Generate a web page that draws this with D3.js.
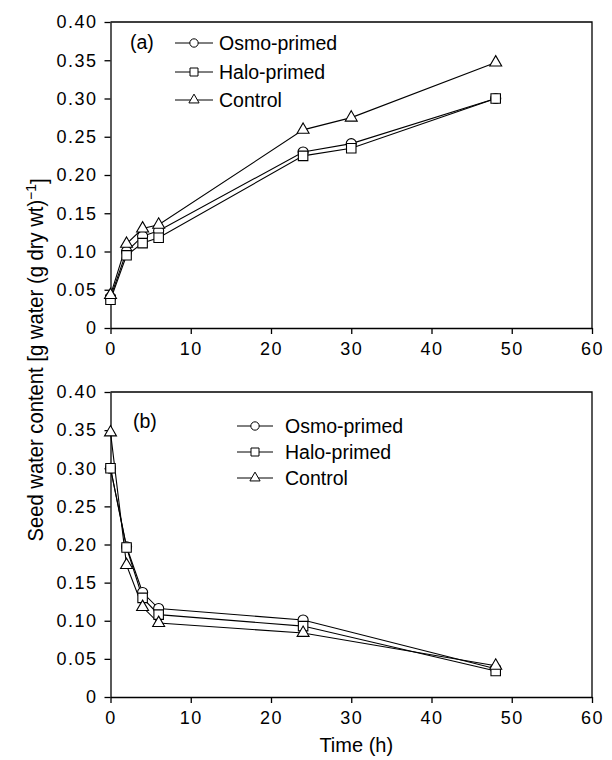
<!DOCTYPE html>
<meta charset="utf-8">
<script src="https://d3js.org/d3.v7.min.js"></script>
<style>
    body { margin: 0; background: #fff; }
    text { font-family: "Liberation Sans", Arial, sans-serif; fill: #000; }
</style>
<div id="vis"></div>
<script>
    // data
    var seriesNames = ["Osmo-primed", "Halo-primed", "Control"];
    var seriesShapes = ["circle", "square", "triangle"];

    var timesA = [0, 2, 4, 6, 24, 30, 48];
    var osmoA = [0.040, 0.100, 0.120, 0.127, 0.230, 0.241, 0.300];
    var haloA = [0.037, 0.095, 0.111, 0.118, 0.225, 0.235, 0.300];
    var ctrlA = [0.043, 0.110, 0.130, 0.135, 0.259, 0.275, 0.347];

    var timesB = [0, 2, 4, 6, 24, 48];
    var osmoB = [0.300, 0.197, 0.137, 0.116, 0.101, 0.037];
    var haloB = [0.300, 0.196, 0.130, 0.108, 0.093, 0.034];
    var ctrlB = [0.347, 0.173, 0.118, 0.097, 0.084, 0.041];

    var xTicks = [0, 10, 20, 30, 40, 50, 60];
    var yTicks = [0, 0.05, 0.10, 0.15, 0.20, 0.25, 0.30, 0.35, 0.40];

    // layout
    var W = 612, H = 760;
    var lft = 110.5, rgt = 592;
    var svg = d3.select("#vis").append("svg")
        .attr("width", W).attr("height", H);

    var x = d3.scaleLinear().domain([0, 60]).range([lft, rgt]);

    var symbolFor = {
        circle: d3.symbol().type(d3.symbolCircle).size(80),
        square: d3.symbol().type(d3.symbolSquare).size(90),
        triangle: d3.symbol().type(d3.symbolTriangle).size(62)
    };

    function panel(top, bot, times, series, tag, leg) {
        var y = d3.scaleLinear().domain([0, 0.40]).range([bot, top]);
        var g = svg.append("g");

        // axes
        var ax = g.append("g")
            .attr("transform", "translate(0," + bot + ")")
            .call(d3.axisBottom(x).tickValues(xTicks).tickSize(6).tickSizeOuter(0).tickPadding(8));
        var ay = g.append("g")
            .attr("transform", "translate(" + lft + ",0)")
            .call(d3.axisLeft(y).tickValues(yTicks).tickSize(6).tickSizeOuter(0).tickPadding(7)
                .tickFormat(function (d) { return d === 0 ? "0" : d.toFixed(2); }));
        [ax, ay].forEach(function (a) {
            a.selectAll("path, line").attr("stroke", "#000").attr("stroke-width", 1.3);
            a.selectAll("text").style("font-size", "18px").style("letter-spacing", "1.5px")
                .attr("fill", "#000");
        });
        // top + right frame
        g.append("path")
            .attr("d", "M" + lft + "," + top + "H" + rgt + "V" + bot)
            .attr("fill", "none").attr("stroke", "#000").attr("stroke-width", 1.3);

        var line = d3.line()
            .x(function (d) { return x(d[0]); })
            .y(function (d) { return y(d[1]); });

        series.forEach(function (vals, i) {
            var pts = times.map(function (t, k) { return [t, vals[k]]; });
            g.append("path").datum(pts)
                .attr("d", line)
                .attr("fill", "none").attr("stroke", "#000").attr("stroke-width", 1.1);
        });
        series.forEach(function (vals, i) {
            var pts = times.map(function (t, k) { return [t, vals[k]]; });
            g.selectAll(".m" + i).data(pts).enter().append("path")
                .attr("class", "m" + i)
                .attr("d", symbolFor[seriesShapes[i]])
                .attr("transform", function (d) { return "translate(" + x(d[0]) + "," + y(d[1]) + ")"; })
                .attr("fill", "#fff").attr("stroke", "#000").attr("stroke-width", 1.1);
        });

        // panel tag
        g.append("text").attr("x", tag.x).attr("y", tag.y)
            .text(tag.label).style("font-size", "19.5px");

        // legend
        seriesNames.forEach(function (nm, i) {
            var ry = leg.rows[i];
            g.append("line")
                .attr("x1", leg.x1).attr("x2", leg.x2).attr("y1", ry).attr("y2", ry)
                .attr("stroke", "#000").attr("stroke-width", 1);
            g.append("path")
                .attr("d", d3.symbol().type([d3.symbolCircle, d3.symbolSquare, d3.symbolTriangle][i])
                    .size([55, 64, 45][i]))
                .attr("transform", "translate(" + (leg.x1 + leg.x2) / 2 + "," + ry + ")")
                .attr("fill", "#fff").attr("stroke", "#000").attr("stroke-width", 1);
            g.append("text")
                .attr("x", leg.tx).attr("y", ry + 7)
                .text(nm).style("font-size", "19.5px");
        });
    }

    panel(22, 328, timesA, [osmoA, haloA, ctrlA],
        { x: 130, y: 49, label: "(a)" },
        { x1: 175, x2: 213, tx: 219, rows: [43, 72, 100] });
    panel(392, 697, timesB, [osmoB, haloB, ctrlB],
        { x: 133, y: 428, label: "(b)" },
        { x1: 237, x2: 273, tx: 285, rows: [426, 452, 478] });

    // axis titles
    svg.append("text")
        .attr("x", (lft + rgt) / 2 + 5).attr("y", 752)
        .attr("text-anchor", "middle")
        .style("font-size", "20px")
        .text("Time (h)");

    // y title: slightly condensed, as in the original
    var yl = svg.append("text")
        .attr("transform", "translate(43,360) rotate(-90) scale(0.92,1)")
        .attr("text-anchor", "middle")
        .style("font-size", "22px");
    yl.append("tspan").text("Seed water content [g water (g dry wt)");
    yl.append("tspan").attr("dy", "-0.45em").style("font-size", "15px").text("\u22121");
    yl.append("tspan").attr("dy", "0.45em").text("]");
</script>
